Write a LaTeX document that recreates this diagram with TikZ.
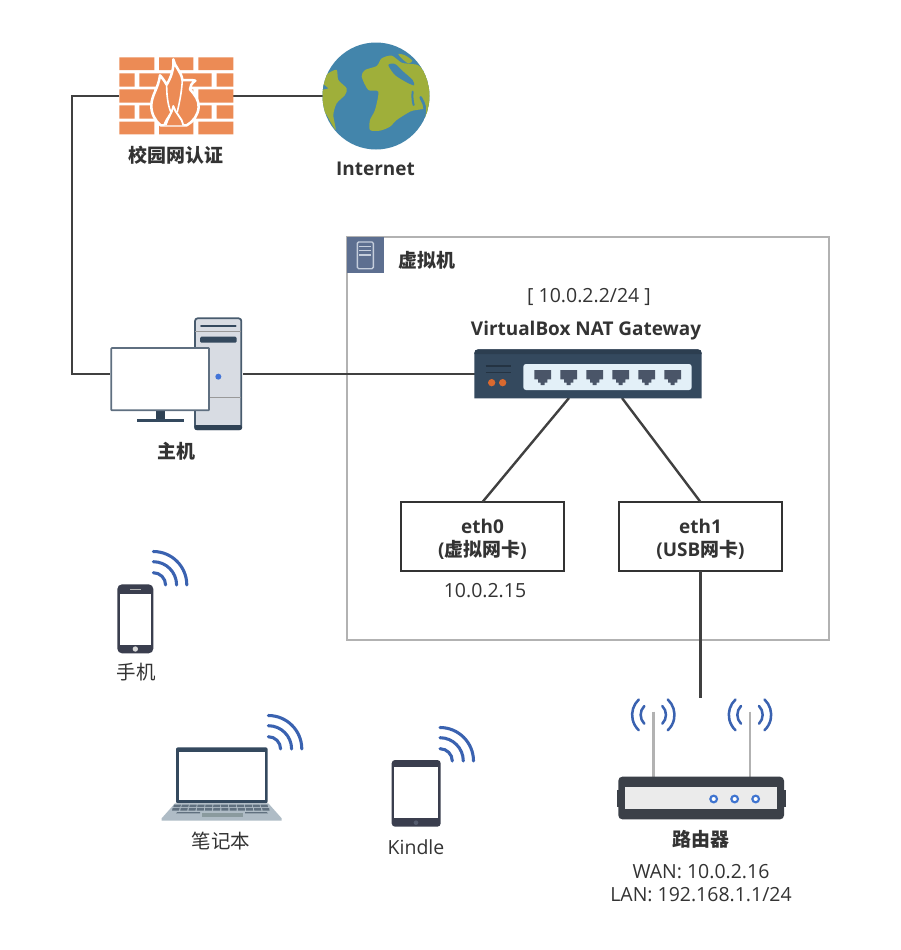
\documentclass[tikz,border=0pt]{standalone}
\usepackage{fontspec}
\setmainfont{Open Sans}
\newfontfamily\cjk{Noto Sans CJK SC}
\usetikzlibrary{calc}
\definecolor{txt}{HTML}{333333}
\definecolor{conn}{HTML}{404040}
\definecolor{navy}{HTML}{34495E}
\definecolor{wifi}{HTML}{3A62B0}
\definecolor{ocean}{HTML}{4385AB}
\definecolor{land}{HTML}{9FAF3A}
\definecolor{brick}{HTML}{EC8B55}
\definecolor{vmicon}{HTML}{5D6F90}
\definecolor{vmline}{HTML}{C5CEDC}
\definecolor{towerc}{HTML}{D8DCE3}
\definecolor{dotblue}{HTML}{4274D8}
\definecolor{monframe}{HTML}{5F6F80}
\definecolor{orangedot}{HTML}{D9692F}
\definecolor{panelc}{HTML}{E3F0F8}
\definecolor{portc}{HTML}{4A5568}
\definecolor{phonec}{HTML}{3A3E4E}
\definecolor{basec}{HTML}{AFBCC6}
\definecolor{keyc}{HTML}{60707F}
\definecolor{padc}{HTML}{8A9A9E}
\definecolor{homec}{HTML}{555C6E}
\definecolor{routerc}{HTML}{3B4048}
\definecolor{ledc}{HTML}{3F74D0}
\tikzset{
  px/.style 2 args={minimum width=#1*0.75pt,minimum height=#2*0.75pt,inner sep=0pt,outer sep=0pt},
  conline/.style={draw=conn,line width=1.8pt},
  ethbox/.style={draw=txt,line width=1.5pt,fill=white,align=center,text=txt,font=\fontsize{14.2}{17.5}\selectfont\bfseries,inner sep=0pt,outer sep=0pt,minimum width=163*0.75pt,minimum height=69*0.75pt},
  label/.style={text=txt,inner sep=0pt,align=center,font=\fontsize{14.6}{17}\selectfont},
  blabel/.style={text=txt,inner sep=0pt,align=center,font=\fontsize{14.2}{17}\selectfont\bfseries},
  wave/.style={draw=wifi,line width=2.3pt,line cap=round},
  zoomed/.style 2 args={shift={(#1,#2)},scale=0.33333}
}
\newcommand{\wifisym}[2]{%
  \draw[wave] (#1+12.3,#2) arc[start angle=0,end angle=-90,radius=12.3];
  \draw[wave] (#1+23.3,#2) arc[start angle=0,end angle=-90,radius=23.3];
  \draw[wave] (#1+33.5,#2) arc[start angle=0,end angle=-90,radius=33.5];
}
\newcommand{\antwaves}[2]{%
  \draw[wave,line width=1.9pt] (#1+9,#2-9) arc[start angle=-45,end angle=45,radius=12.5];
  \draw[wave,line width=1.9pt] (#1-9,#2-9) arc[start angle=-135,end angle=-225,radius=12.5];
  \draw[wave,line width=1.9pt] (#1+14.5,#2-15.5) arc[start angle=-47,end angle=47,radius=21];
  \draw[wave,line width=1.9pt] (#1-14.5,#2-15.5) arc[start angle=-133,end angle=-227,radius=21];
}
\begin{document}
\begin{tikzpicture}[x=0.75pt,y=-0.75pt]
\useasboundingbox (0,0) rectangle (900,950);
\fill[white] (0,0) rectangle (900,950);

% VM container
\node[px={482}{403},draw=black!30,line width=1.5pt,anchor=north west] (vm) at (347,237) {};
\node[px={37}{36},anchor=north west,fill=vmicon] (vmiconbox) at (347,237) {};
\begin{scope}[zoomed={340}{230}]
  \draw[vmline,line width=1pt,rounded corners=1pt] (52,36) rectangle (100,116);
  \foreach \yy in {50,62,75} \draw[vmline,line width=0.8pt] (58,\yy) -- (94,\yy);
\end{scope}

% Nodes (anchors for the connectors)
\node[px={113}{78}] (fw) at (176.5,96) {};
\node[px={107}{107}] (globe) at (376,96) {};
\node[px={133}{112}] (host) at (176.5,374) {};
\node[px={227}{48}] (sw) at (588.5,374) {};
\node[ethbox] (eth0) at (482.5,536.5) {\rule{0pt}{15pt}eth0\\({\cjk 虚拟网卡})};
\node[ethbox] (eth1) at (700.5,536.5) {\rule{0pt}{15pt}eth1\\(USB{\cjk 网卡})};
\coordinate (corner1) at (72,96);
\coordinate (corner2) at (72,374);
\coordinate (swa) at (569,398);
\coordinate (swb) at (622,398);
\coordinate (routertop) at (700.5,698);

% Connectors
\draw[conline] (fw.west) -- (corner1) -- (corner2) -- (host.west);
\draw[conline] (fw.east) -- (globe.west);
\draw[conline] (host.east) -- (sw.west);
\draw[conline] (swa) -- (eth0.north);
\draw[conline] (swb) -- (eth1.north);
\draw[conline] (eth1.south) -- (routertop);

% Firewall
\begin{scope}[zoomed={60}{30}]
  \fill[white] (178,82) rectangle (520,313);
  \foreach \ya/\yb in {82/120,178/218,275/313} {
    \fill[brick] (178,\ya) rectangle (283,\yb) (297,\ya) rectangle (400,\yb) (415,\ya) rectangle (520,\yb);}
  \foreach \ya/\yb in {130/170,226/266} {
    \fill[brick] (178,\ya) rectangle (224,\yb) (238,\ya) rectangle (345,\yb) (358,\ya) rectangle (455,\yb) (470,\ya) rectangle (520,\yb);}
\end{scope}
\begin{scope}[zoomed={140}{50}]
  \draw[white,line width=1.9pt,fill=brick,line join=round]
    (100,28) .. controls (103,50) and (125,65) .. (127,90)
    .. controls (138,92) and (152,88) .. (166,92)
    .. controls (155,100) and (150,108) .. (150,118)
    .. controls (165,135) and (177,150) .. (176,172)
    .. controls (174,195) and (160,215) .. (140,226)
    -- (62,226)
    .. controls (45,212) and (33,190) .. (34,165)
    .. controls (35,135) and (55,115) .. (60,76)
    .. controls (68,85) and (75,95) .. (80,104)
    .. controls (92,85) and (103,55) .. (100,28) -- cycle;
  \draw[white,line width=1.2pt,line cap=round,line join=round] (80,104) .. controls (80,130) and (82,160) .. (92,185);
  \draw[white,line width=1.2pt,line cap=round,line join=round] (127,90) .. controls (125,125) and (120,150) .. (112,185);
  \draw[white,line width=1.4pt,fill=brick,line join=round] (72,226) .. controls (78,205) and (98,190) .. (100,168) .. controls (105,190) and (128,205) .. (130,226);
  \fill[white] (72,226) .. controls (78,205) and (90,195) .. (100,172) .. controls (98,195) and (85,205) .. (80,226) -- cycle;
\end{scope}

% Globe
\begin{scope}
  \clip (376,96) circle[radius=53.5];
  \fill[ocean] (376,96) circle[radius=54];
  \begin{scope}[zoomed={320}{40}]
    \fill[land] plot[smooth cycle,tension=0.45] coordinates {(125,110) (135,90) (170,78) (185,55) (215,47) (245,68) (275,72) (300,80) (340,140) (340,200) (312,255) (318,210) (290,210) (270,215) (230,240) (210,260) (180,272) (150,270) (150,240) (165,210) (175,155) (145,150)};
    \fill[land] plot[smooth cycle,tension=0.45] coordinates {(0,130) (25,100) (50,90) (55,120) (80,145) (75,165) (50,190) (40,225) (47,270) (20,225) (0,190)};
    \fill[land] plot[smooth cycle,tension=0.5] coordinates {(235,42) (255,46) (277,62) (265,70) (247,57)};
    \fill[ocean] plot[smooth cycle,tension=0.45] coordinates {(205,75) (225,72) (250,95) (278,120) (282,136) (260,127) (225,105)};
    \fill[ocean] (4,128) -- (25,145) -- (4,150) -- cycle;
    \draw[ocean,line width=1.5pt,line cap=round] (278,155) .. controls (276,170) and (278,185) .. (281,195);
    \draw[ocean,line width=2pt,line cap=round] (302,172) .. controls (308,185) and (315,195) .. (314,208);
  \end{scope}
\end{scope}

% Host
\begin{scope}[zoomed={90}{300}]
  \fill[fill=towerc,draw=navy!90,line width=1.3pt,rounded corners=2pt] (315,55) rectangle (454,388);
  \fill[navy!90!black,rounded corners=1.5pt] (313,375) rectangle (456,390);
  \draw[navy,line width=1.3pt,line cap=round] (333,79) -- (437,79);
  \draw[black!40,line width=1pt] (316,95) -- (453,95);
  \fill[navy,rounded corners=1pt] (330,110) rectangle (440,128);
  \draw[black!40,line width=1.2pt] (316,293) -- (453,293);
  \fill[dotblue] (385,230) circle[radius=9];
  \fill[navy!90!black] (197,330) rectangle (226,358);
  \fill[navy] (140,357) rectangle (282,366);
  \draw[monframe,fill=white,line width=1.3pt,rounded corners=0.5pt] (64,144) rectangle (357,331);
\end{scope}

% Switch
\begin{scope}[zoomed={340}{230}]
  \fill[navy] (403,505) -- (403,370) .. controls (403,362) and (407,358) .. (415,358) -- (1073,358) .. controls (1081,358) and (1085,362) .. (1085,370) -- (1085,505) -- cycle;
  \fill[navy!85!black] (403,372) -- (403,370) .. controls (403,362) and (407,358) .. (415,358) -- (1073,358) .. controls (1081,358) and (1085,362) .. (1085,370) -- (1085,372) -- cycle;
  \draw[navy!70!black,line width=0.8pt] (437,408) -- (512,408) (437,428) -- (512,428);
  \fill[orangedot] (455,458) circle[radius=11] (488,458) circle[radius=11];
  \fill[panelc,rounded corners=2pt] (550,402) rectangle (1055,480);
  \foreach \px in {608,686,764,842,920,998}
    \fill[portc] (\px-25,420) -- (\px+25,420) -- (\px+25,448) -- (\px+14,448) -- (\px+14,458) -- (\px+6,458) -- (\px+6,465) -- (\px-6,465) -- (\px-6,458) -- (\px-14,458) -- (\px-14,448) -- (\px-25,448) -- cycle;
\end{scope}

% Phone
\begin{scope}[zoomed={100}{540}]
  \fill[phonec,rounded corners=3.5pt] (52,133) rectangle (160,340);
  \fill[white] (60,163) rectangle (153,315);
  \draw[white!70!black,line width=0.5pt] (90,149) -- (122,149);
  \fill[white!85!black] (106,327) circle[radius=8];
\end{scope}
\wifisym{153.3}{585}

% Laptop
\begin{scope}[zoomed={100}{540}]
  \fill[navy,rounded corners=1.5pt] (228,622) rectangle (503,790);
  \fill[white] (236,637) rectangle (496,780);
  \fill[basec] (225,790) -- (505,790) -- (545,835) -- (545,842) -- (185,842) -- (185,835) -- cycle;
  \foreach \i in {0,...,11} {
    \fill[keyc] (222+\i*23.6,794) -- (243+\i*23.6,794) -- (241+\i*23.9,801) -- (220+\i*23.9,801) -- cycle;
    \fill[keyc] (218+\i*24.4,804) -- (239+\i*24.4,804) -- (237+\i*24.7,812) -- (216+\i*24.7,812) -- cycle;
  }
  \fill[padc] (307,818) rectangle (428,831);
  \fill[keyc] (232,816) -- (300,816) -- (300,820) -- (228,820) -- cycle;
  \fill[keyc] (435,816) -- (500,816) -- (504,820) -- (435,820) -- cycle;
\end{scope}
\wifisym{268.3}{749}

% Kindle
\begin{scope}[zoomed={370}{710}]
  \fill[phonec,rounded corners=2.5pt] (65,150) rectangle (212,350);
  \fill[white] (72,172) rectangle (205,325);
  \fill[homec] (138,338) circle[radius=7];
\end{scope}
\wifisym{440}{761}

% Router
\begin{scope}[zoomed={600}{680}]
  \draw[black!30,line width=2.2pt] (160,95) -- (160,292);
  \draw[black!30,line width=2.2pt] (450,95) -- (450,292);
  \fill[routerc] (50,330) rectangle (557,380);
  \fill[routerc,rounded corners=3pt] (55,290) rectangle (552,418);
  \fill[white!92!black] (75,322) rectangle (530,387);
  \foreach \cx in {341,404,467}
    \draw[ledc,line width=1.6pt,fill=white] (\cx,357) circle[radius=10];
\end{scope}
\antwaves{653.3}{715}
\antwaves{750}{715}

% Labels
\node[blabel] (lfw) at (176,155) {\cjk 校园网认证};
\node[blabel] (lnet) at (375.5,169) {Internet};
\node[blabel,anchor=center] (lvm) at (427,260) {\cjk 虚拟机};
\node[label] (lip) at (589,297) {[ 10.0.2.2/24 ]};
\node[blabel] (lgw) at (586,331) {VirtualBox NAT Gateway};
\node[blabel] (lhost) at (176,451) {\cjk 主机};
\node[label] (leth0) at (485,591) {10.0.2.15};
\node[label] (lphone) at (136,672) {\cjk 手机};
\node[label] (llap) at (221,841) {\cjk 笔记本};
\node[label] (lkin) at (416,847) {Kindle};
\node[blabel] (lrt) at (701,839) {\cjk 路由器};
\node[label] (lwan) at (701,872) {WAN: 10.0.2.16};
\node[label] (llan) at (701,895) {LAN: 192.168.1.1/24};
\end{tikzpicture}
\end{document}
